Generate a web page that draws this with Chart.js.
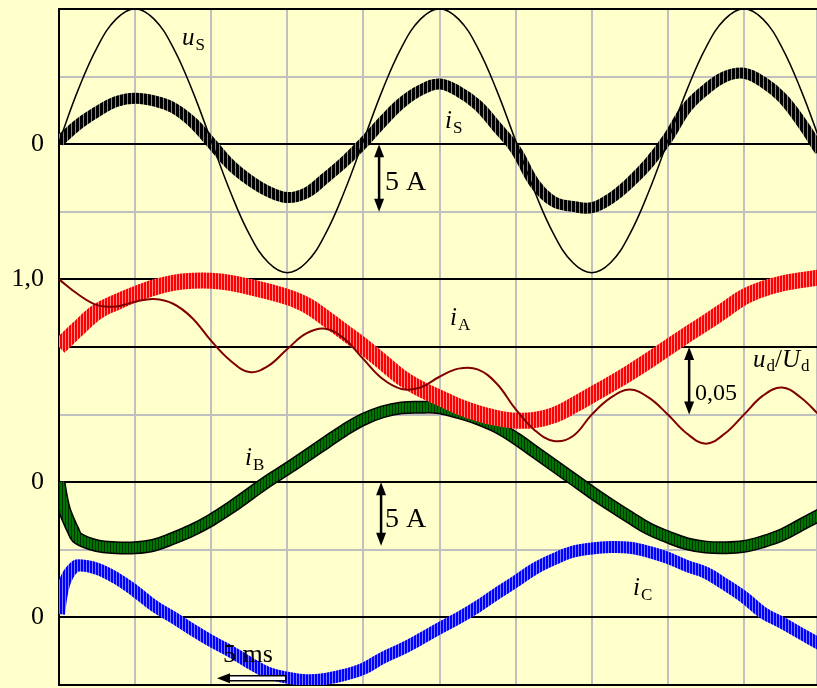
<!DOCTYPE html>
<html>
<head>
<meta charset="utf-8">
<script src="https://cdn.jsdelivr.net/npm/chart.js@4"></script>
<style>
  html, body { margin: 0; padding: 0; background: #ffffcc; }
  canvas { display: block; }
</style>
</head>
<body>
<canvas id="scope" width="817" height="688"></canvas>
<script>
// time base in ms, one sample every 1.25 ms
const t = [0, 1.25, 2.5, 3.75, 5, 6.25, 7.5, 8.75, 10, 11.25, 12.5, 13.75, 15, 16.25, 17.5, 18.75,
  20, 21.25, 22.5, 23.75, 25, 26.25, 27.5, 28.75, 30, 31.25, 32.5, 33.75, 35, 36.25, 37.5, 38.75,
  40, 41.25, 42.5, 43.75, 45, 46.25, 47.5, 48.75, 50];

// mains voltage and current (top trace, zero at 8)
const uS = [8.03, 8.8, 9.43, 9.85, 10.0, 9.85, 9.43, 8.8, 8.05, 7.3, 6.67, 6.25, 6.1, 6.25, 6.67, 7.3,
  8.05, 8.8, 9.43, 9.85, 10.0, 9.85, 9.43, 8.8, 8.05, 7.3, 6.67, 6.25, 6.1, 6.25, 6.67, 7.3,
  8.05, 8.8, 9.43, 9.85, 10.0, 9.85, 9.43, 8.8, 8.05];
const iS = [8.04, 8.29, 8.48, 8.63, 8.68, 8.64, 8.54, 8.33, 8.02, 7.7, 7.47, 7.3, 7.21, 7.28, 7.5, 7.74,
  8.02, 8.33, 8.61, 8.8, 8.89, 8.78, 8.58, 8.26, 7.92, 7.42, 7.15, 7.08, 7.06, 7.2, 7.43, 7.72,
  8.09, 8.54, 8.81, 9.0, 9.05, 8.92, 8.69, 8.33, 7.9];

// DC link voltage ratio (1,0 at 6) and phase A current
const ud = [6.0, 5.78, 5.62, 5.6, 5.67, 5.71, 5.64, 5.43, 5.09, 4.8, 4.63, 4.72, 4.97, 5.2, 5.27, 5.12,
  4.82, 4.53, 4.38, 4.4, 4.56, 4.68, 4.67, 4.46, 4.08, 3.77, 3.61, 3.68, 4.0, 4.25, 4.37, 4.25,
  4.0, 3.72, 3.57, 3.72, 4.0, 4.28, 4.4, 4.25, 3.98];
const iA = [5.0, 5.27, 5.52, 5.66, 5.78, 5.88, 5.95, 5.98, 5.98, 5.95, 5.89, 5.82, 5.74, 5.62, 5.43, 5.22,
  5.01, 4.78, 4.55, 4.38, 4.25, 4.12, 4.02, 3.95, 3.91, 3.92, 3.99, 4.13, 4.29, 4.45, 4.62, 4.8,
  4.99, 5.18, 5.36, 5.55, 5.74, 5.86, 5.94, 5.99, 6.03];

// phase B (zero at 3) and phase C (zero at 1): fast start-up, then every 1.25 ms
const tHead = [0, 0.15, 0.35, 0.6, 0.9];
const iBHead = [3.0, 2.8, 2.6, 2.45, 2.3];
const iCHead = [1.05, 1.3, 1.5, 1.63, 1.72];
const iB = [2.17, 2.06, 2.03, 2.03, 2.07, 2.17, 2.29, 2.44, 2.62, 2.82, 3.02, 3.2, 3.39, 3.58, 3.77,
  3.93, 4.04, 4.1, 4.11, 4.1, 4.03, 3.94, 3.82, 3.65, 3.45, 3.25, 3.05, 2.85, 2.66, 2.48, 2.31,
  2.19, 2.09, 2.04, 2.03, 2.05, 2.12, 2.22, 2.37, 2.52];
const iC = [1.77, 1.72, 1.58, 1.39, 1.17, 1.0, 0.82, 0.65, 0.5, 0.33, 0.18, 0.11, 0.07, 0.09, 0.15,
  0.24, 0.4, 0.53, 0.68, 0.84, 0.99, 1.16, 1.35, 1.53, 1.72, 1.86, 1.97, 2.02, 2.04, 2.03, 1.97,
  1.88, 1.76, 1.66, 1.49, 1.3, 1.07, 0.92, 0.76, 0.6];

// left axis labels
const axisMarks = [8, 6, 3, 1];
const axisText = ['0', '1,0', '0', '0'];
const blackLines = [0, 1, 3, 5, 6, 8, 10];

const canvas = document.getElementById('scope');
const ctx = canvas.getContext('2d');

// vertical stripes to mimic the PWM ripple on the current traces
function hatch(a, b, wa, wb) {
  const c = document.createElement('canvas');
  c.width = wa + wb;
  c.height = 1;
  const g = c.getContext('2d');
  g.fillStyle = a;
  g.fillRect(0, 0, wa, 1);
  g.fillStyle = b;
  g.fillRect(wa, 0, wb, 1);
  return ctx.createPattern(c, 'repeat');
}

const pts = (xs, ys) => xs.map((x, i) => ({ x: x, y: ys[i] }));
const withHead = (head, ys) => pts(tHead, head).concat(pts(t.slice(1), ys));

const serif = '"Liberation Serif", "Times New Roman", serif';

// text and arrows placed in data coordinates (ms, grid units)
const notes = [
  { t: 8.08, u: 9.47, main: 'u', sub: 'S' },
  { t: 25.36, u: 8.24, main: 'i', sub: 'S' },
  { t: 25.69, u: 5.33, main: 'i', sub: 'A' },
  { t: 12.22, u: 3.25, main: 'i', sub: 'B' },
  { t: 37.71, u: 1.33, main: 'i', sub: 'C' }
];
const plain = [
  { t: 21.42, u: 7.32, text: '5 A', size: 28 },
  { t: 21.42, u: 2.34, text: '5 A', size: 28 },
  { t: 41.79, u: 4.22, text: '0,05', size: 24 },
  { t: 10.78, u: 0.34, text: '5 ms', size: 26 }
];
const arrows = [
  { t1: 21.03, u1: 8, t2: 21.03, u2: 7 },
  { t1: 21.16, u1: 3, t2: 21.16, u2: 2.06 },
  { t1: 41.4, u1: 5, t2: 41.4, u2: 4 }
];

function head(g, x, y, ang) {
  g.save();
  g.translate(x, y);
  g.rotate(ang);
  g.beginPath();
  g.moveTo(0, 0);
  g.lineTo(-13, -5);
  g.lineTo(-13, 5);
  g.closePath();
  g.fill();
  g.restore();
}

const scopeNotes = {
  id: 'scopeNotes',
  afterDatasetsDraw(chart) {
    const g = chart.ctx;
    const sx = chart.scales.x, sy = chart.scales.y;
    g.save();
    g.fillStyle = '#000';
    g.strokeStyle = '#000';
    g.textBaseline = 'alphabetic';
    g.textAlign = 'left';

    notes.forEach(n => {
      const x = sx.getPixelForValue(n.t), y = sy.getPixelForValue(n.u);
      g.font = 'italic 25px ' + serif;
      g.fillText(n.main, x, y);
      const w = g.measureText(n.main).width;
      g.font = '17px ' + serif;
      g.fillText(n.sub, x + w + 1, y + 5);
    });

    // u_d / U_d
    let x = sx.getPixelForValue(45.6), y = sy.getPixelForValue(4.7);
    const run = [['u', true], ['d', false], ['/', null], ['U', true], ['d', false]];
    run.forEach(([s, it]) => {
      if (it === true) g.font = 'italic 25px ' + serif;
      else if (it === false) g.font = '17px ' + serif;
      else g.font = '25px ' + serif;
      g.fillText(s, x, it === false ? y + 4 : y);
      x += g.measureText(s).width + (it === true ? 1 : 0);
    });

    plain.forEach(p => {
      g.font = p.size + 'px ' + serif;
      g.fillText(p.text, sx.getPixelForValue(p.t), sy.getPixelForValue(p.u));
    });

    g.lineWidth = 2.5;
    arrows.forEach(a => {
      const x1 = sx.getPixelForValue(a.t1), y1 = sy.getPixelForValue(a.u1);
      const x2 = sx.getPixelForValue(a.t2), y2 = sy.getPixelForValue(a.u2);
      const ang = Math.atan2(y2 - y1, x2 - x1);
      g.beginPath();
      g.moveTo(x1 + 8 * Math.cos(ang), y1 + 8 * Math.sin(ang));
      g.lineTo(x2 - 8 * Math.cos(ang), y2 - 8 * Math.sin(ang));
      g.stroke();
      head(g, x1, y1, ang + Math.PI);
      head(g, x2, y2, ang);
    });

    // time scale arrow along the bottom
    const xa = sx.getPixelForValue(10.38), xb = sx.getPixelForValue(14.9), ya = sy.getPixelForValue(0.1);
    g.lineWidth = 1.5;
    g.fillStyle = '#fff';
    g.fillRect(xa + 10, ya - 2.5, xb - xa - 10, 5);
    g.strokeRect(xa + 10, ya - 2.5, xb - xa - 10, 5);
    g.fillStyle = '#000';
    head(g, xa, ya, Math.PI);
    g.restore();
  }
};

new Chart(ctx, {
  type: 'line',
  data: {
    datasets: [
      { label: 'uS', data: pts(t, uS), borderColor: '#000', borderWidth: 1.5 },
      { label: 'iS', data: pts(t, iS), borderColor: hatch('#000', '#8c8c6c', 3, 1), borderWidth: 11 },
      { label: 'ud/Ud', data: pts(t, ud), borderColor: '#800000', borderWidth: 2 },
      { label: 'iA', data: pts(t, iA), borderColor: hatch('#ff0000', '#ff8c8c', 2, 1), borderWidth: 16 },
      { label: 'iC', data: withHead(iCHead, iC), borderColor: hatch('#0000ff', '#7a7aff', 2, 1), borderWidth: 12 },
      { label: 'iB', data: withHead(iBHead, iB), borderColor: hatch('#007400', '#003300', 2, 1), borderWidth: 10 },
      { label: 'iB edge', data: withHead(iBHead, iB), borderColor: '#000', borderWidth: 13 }
    ].map(d => Object.assign(d, {
      pointRadius: 0,
      fill: false,
      tension: 0.4,
      borderCapStyle: 'butt',
      borderJoinStyle: 'round',
      clip: 0
    }))
  },
  options: {
    responsive: false,
    animation: false,
    devicePixelRatio: 1,
    layout: { padding: { top: 9, bottom: 3, left: 0, right: 0 } },
    plugins: { legend: { display: false }, tooltip: { enabled: false } },
    scales: {
      x: {
        type: 'linear',
        min: 0,
        max: 49.8,
        ticks: { display: false, stepSize: 5 },
        grid: {
          z: -1,
          drawTicks: false,
          lineWidth: 2,
          color: c => (c.tick && c.tick.value === 0 ? '#000' : '#c0c0c0')
        },
        border: { display: true, color: '#000', width: 2 },
        afterFit: s => { s.height = 0; s.paddingLeft = 0; s.paddingRight = 0; }
      },
      y: {
        min: 0,
        max: 10,
        ticks: {
          stepSize: 1,
          padding: 15,
          color: '#000',
          font: { family: serif, size: 26 },
          callback: v => {
            const i = axisMarks.indexOf(v);
            return i < 0 ? '' : axisText[i];
          }
        },
        grid: {
          drawTicks: false,
          lineWidth: 2,
          color: c => (c.tick && blackLines.includes(c.tick.value) ? '#000' : '#c0c0c0')
        },
        border: { display: true, color: '#000', width: 2 },
        afterFit: s => { s.width = 59; s.paddingTop = 0; s.paddingBottom = 0; }
      }
    }
  },
  plugins: [scopeNotes]
});
</script>
</body>
</html>
